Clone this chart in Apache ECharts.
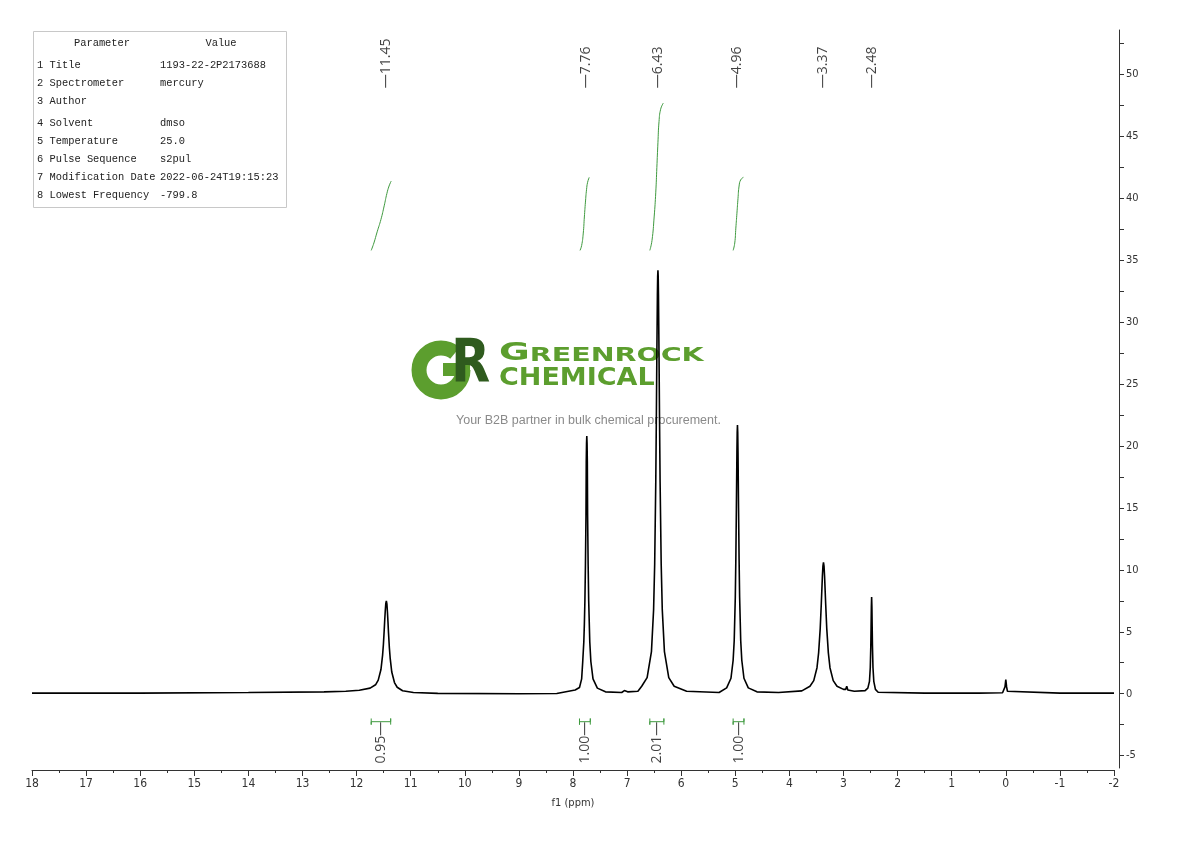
<!DOCTYPE html>
<html>
<head>
<meta charset="utf-8">
<script src="https://cdn.jsdelivr.net/npm/echarts@6/dist/echarts.min.js"></script>
<style>
html, body { margin: 0; padding: 0; background: #fff; }
#main { width: 1190px; height: 841px; }
</style>
</head>
<body>
<div id="main"></div>
<script>
// 1H spectrum trace, [ppm, intensity]
const spectrum = [
    [18.0, 0.05], [16.0, 0.05], [14.0, 0.1], [12.6, 0.15], [12.2, 0.2],
    [11.95, 0.28], [11.75, 0.45], [11.65, 0.72], [11.60, 1.1], [11.55, 1.95],
    [11.52, 3.1], [11.505, 3.95], [11.49, 5.1], [11.48, 5.95], [11.47, 6.7],
    [11.46, 7.3], [11.45, 7.5], [11.44, 7.26], [11.43, 6.6], [11.42, 5.8],
    [11.41, 4.9], [11.395, 3.75], [11.38, 2.9], [11.35, 1.75], [11.30, 0.9],
    [11.25, 0.52], [11.15, 0.24], [10.95, 0.1], [10.5, 0.03], [9.0, 0.0],
    [8.3, 0.02], [7.96, 0.3],
    [7.88, 0.5], [7.84, 1.2], [7.82, 2.6], [7.80, 4.2], [7.79, 5.6], [7.78, 7.5],
    [7.77, 10.4], [7.76, 14.4], [7.755, 18.7], [7.75, 20.2], [7.745, 20.8], [7.74, 20.2],
    [7.735, 18.7], [7.73, 14.4], [7.72, 10.4], [7.71, 7.5], [7.69, 4.2],
    [7.67, 2.6], [7.63, 1.2], [7.55, 0.45], [7.4, 0.15], [7.1, 0.1],
    [7.05, 0.25], [7.02, 0.3], [6.99, 0.15], [6.8, 0.2], [6.73, 0.6],
    [6.63, 1.3], [6.55, 3.4], [6.51, 6.8], [6.49, 10.5], [6.47, 17.1],
    [6.46, 21.9], [6.45, 27.4], [6.44, 32.2], [6.435, 33.7], [6.43, 34.2],
    [6.425, 33.7], [6.42, 32.2], [6.41, 27.4], [6.40, 21.9], [6.39, 17.1],
    [6.37, 10.5], [6.35, 6.8], [6.31, 3.4], [6.23, 1.3], [6.13, 0.6],
    [5.9, 0.2], [5.3, 0.1], [5.16, 0.47],
    [5.08, 1.25], [5.04, 2.7], [5.02, 4.3], [5.0, 7.8], [4.99, 10.85],
    [4.98, 15.0], [4.97, 19.5], [4.965, 21.1], [4.96, 21.7], [4.955, 21.1],
    [4.95, 19.5], [4.94, 15.0], [4.93, 10.85], [4.92, 7.8], [4.90, 4.3],
    [4.88, 2.7], [4.84, 1.25], [4.76, 0.47], [4.6, 0.15], [4.2, 0.1],
    [3.77, 0.23], [3.62, 0.6], [3.55, 1.06], [3.49, 2.1], [3.46, 3.3],
    [3.43, 5.3], [3.41, 7.3], [3.39, 9.5], [3.38, 10.3], [3.37, 10.6],
    [3.36, 10.3], [3.35, 9.5], [3.33, 7.3], [3.31, 5.3], [3.28, 3.3],
    [3.25, 2.1], [3.19, 1.06], [3.12, 0.6], [3.0, 0.35], [2.96, 0.35],
    [2.94, 0.6], [2.92, 0.3], [2.8, 0.2], [2.6, 0.25],
    [2.55, 0.45], [2.52, 1.0], [2.505, 2.1], [2.495, 3.9], [2.49, 5.4],
    [2.485, 7.0], [2.48, 7.8], [2.475, 7.0], [2.47, 5.4], [2.465, 3.9],
    [2.455, 2.1], [2.44, 1.0], [2.41, 0.35], [2.36, 0.12], [1.5, 0.05],
    [0.5, 0.05], [0.06, 0.08], [0.03, 0.2], [0.015, 0.55], [0.0, 1.15],
    [-0.015, 0.55], [-0.03, 0.2], [-0.06, 0.06], [-1.0, 0.05], [-2.0, 0.05]
];

// peak picking labels
const peakShifts = [11.45, 7.76, 6.43, 4.96, 3.37, 2.48];

// integration regions and values
const integralRanges = [[11.73, 11.37], [7.88, 7.68], [6.58, 6.32], [5.04, 4.84]];
const integralValues = [0.95, 1.00, 2.01, 1.00];

// integral curves, [ppm, height on the intensity scale]
const integralCurve1 = [[11.73, 35.8], [11.68, 36.4], [11.62, 37.3], [11.55, 38.3], [11.49, 39.4], [11.44, 40.4], [11.40, 41.0], [11.36, 41.4]];
const integralCurve2 = [[7.87, 35.8], [7.84, 36.2], [7.81, 37.2], [7.79, 38.5], [7.77, 39.7], [7.75, 40.7], [7.73, 41.3], [7.70, 41.7]];
const integralCurve3 = [[6.58, 35.8], [6.54, 36.6], [6.50, 38.5], [6.47, 40.5], [6.45, 42.5], [6.43, 44.5], [6.41, 46.2], [6.38, 47.2], [6.33, 47.7]];
const integralCurve4 = [[5.04, 35.8], [5.01, 36.4], [4.99, 37.6], [4.97, 38.8], [4.95, 40.0], [4.93, 41.0], [4.90, 41.5], [4.85, 41.7]];

// right axis ticks / labels
const yTickValues = [-5, -2.5, 0, 2.5, 5, 7.5, 10, 12.5, 15, 17.5, 20, 22.5, 25, 27.5, 30, 32.5, 35, 37.5, 40, 42.5, 45, 47.5, 50, 52.5];
const yLabelValues = [-5, 0, 5, 10, 15, 20, 25, 30, 35, 40, 45, 50];

// parameter table
const paramNames = ['1 Title', '2 Spectrometer', '3 Author', '4 Solvent', '5 Temperature', '6 Pulse Sequence', '7 Modification Date', '8 Lowest Frequency'];
const paramValues = ['1193-22-2P2173688', 'mercury', '', 'dmso', '25.0', 's2pul', '2022-06-24T19:15:23', '-799.8'];
const paramRowY = [65, 83, 101, 123, 141, 159, 177, 195];

const axisFont = "'DejaVu Sans Condensed', 'Liberation Sans Narrow', sans-serif";
const tableFont = "'Liberation Mono', 'DejaVu Sans Mono', monospace";
const green = '#3f9a3f';

let chart = echarts.init(document.getElementById('main'));

// integral bars under the baseline
let barSeries = integralRanges.map(r => ({
    type: 'line',
    silent: true,
    symbol: 'none',
    lineStyle: { color: green, width: 1 },
    data: [[r[0], -2.0], [r[0], -2.5], [r[0], -2.26], [r[1], -2.26], [r[1], -2.0], [r[1], -2.5]],
    z: 3
}));

let curveSeries = [integralCurve1, integralCurve2, integralCurve3, integralCurve4].map(c => ({
    type: 'line',
    silent: true,
    symbol: 'none',
    smooth: true,
    lineStyle: { color: green, width: 1 },
    data: c,
    z: 3
}));

// table graphic
function tableText(x, y, text, align) {
    return {
        type: 'text', x: x, y: y,
        style: { text: text, fontFamily: tableFont, fontSize: 10.4, fill: '#222', align: align || 'left', verticalAlign: 'middle' }
    };
}
let tableEls = [{
    type: 'rect',
    shape: { x: 33.5, y: 31.5, width: 253, height: 176 },
    style: { fill: '#fff', stroke: '#c8c8c8', lineWidth: 1 }
}, tableText(102, 43, 'Parameter', 'center'), tableText(221, 43, 'Value', 'center')];
paramNames.forEach((name, i) => {
    tableEls.push(tableText(37, paramRowY[i], name));
    tableEls.push(tableText(160, paramRowY[i], paramValues[i]));
});

// watermark logo
let logoEls = [{
    type: 'arc',
    shape: { cx: 441, cy: 370, r: 22, startAngle: 0, endAngle: Math.PI * 1.72, clockwise: true },
    style: { stroke: '#5c9e2e', lineWidth: 15, fill: null }
}, {
    type: 'rect',
    shape: { x: 443, y: 363, width: 27, height: 13 },
    style: { fill: '#5c9e2e' }
}, {
    type: 'text', x: 451, y: 366, scaleX: 0.85,
    style: { text: 'R', fontFamily: 'DejaVu Sans', fontWeight: 'bold', fontSize: 60, fill: '#2f5b1e', verticalAlign: 'middle' }
}, {
    type: 'text', x: 499, y: 353, scaleX: 1.5,
    style: {
        text: '{g|G}{r|REENROCK}', verticalAlign: 'middle',
        rich: {
            g: { fontFamily: 'DejaVu Sans', fontWeight: 'bold', fontSize: 25, fill: '#5c9e2e', verticalAlign: 'bottom' },
            r: { fontFamily: 'DejaVu Sans', fontWeight: 'bold', fontSize: 19, fill: '#5c9e2e', verticalAlign: 'bottom' }
        }
    }
}, {
    type: 'text', x: 499, y: 378, scaleX: 1.08,
    style: { text: 'CHEMICAL', fontFamily: 'DejaVu Sans', fontWeight: 'bold', fontSize: 25, fill: '#5c9e2e', verticalAlign: 'middle' }
}, {
    type: 'text', x: 456, y: 421,
    style: { text: 'Your B2B partner in bulk chemical procurement.', fontFamily: 'Liberation Sans', fontSize: 12.5, fill: '#8a8a8a', verticalAlign: 'middle' }
}];

let option = {
    animation: false,
    backgroundColor: '#fff',
    grid: { left: 32, right: 76, top: 30, bottom: 73 },
    xAxis: {
        type: 'value',
        inverse: true,
        min: -2,
        max: 18,
        interval: 1,
        offset: 2,
        name: 'f1 (ppm)',
        nameLocation: 'middle',
        nameGap: 28,
        nameTextStyle: { fontFamily: axisFont, fontSize: 11, color: '#333' },
        axisLine: { onZero: false, lineStyle: { color: '#333', width: 1 } },
        axisTick: { length: 6, lineStyle: { color: '#333' } },
        minorTick: { show: true, splitNumber: 2, length: 3, lineStyle: { color: '#333' } },
        splitLine: { show: false },
        axisLabel: { fontFamily: axisFont, fontSize: 12, color: '#333', margin: 8 }
    },
    yAxis: {
        type: 'value',
        position: 'right',
        min: -6,
        max: 53.6,
        offset: 5,
        axisLine: { show: true, onZero: false, lineStyle: { color: '#333', width: 1 } },
        axisTick: { show: true, length: 5, customValues: yTickValues, lineStyle: { color: '#333' } },
        axisLabel: { customValues: yLabelValues, fontFamily: axisFont, fontSize: 11, color: '#333', margin: 7 },
        splitLine: { show: false }
    },
    graphic: [
        { type: 'group', z: 0, children: tableEls },
        { type: 'group', z: 100, children: logoEls }
    ],
    series: [{
        type: 'line',
        silent: true,
        symbol: 'none',
        lineStyle: { color: '#000', width: 1.6 },
        data: spectrum,
        z: 2
    }, {
        type: 'scatter',
        silent: true,
        symbolSize: 0,
        data: peakShifts.map(p => [p, 48.9]),
        label: {
            show: true,
            position: 'inside',
            rotate: 90,
            align: 'left',
            verticalAlign: 'middle',
            formatter: p => '\u2014' + p.value[0].toFixed(2),
            fontFamily: "'Open Sans', sans-serif",
            fontSize: 14,
            color: '#111'
        }
    }, {
        type: 'scatter',
        silent: true,
        symbolSize: 0,
        data: integralRanges.map((r, i) => [(r[0] + r[1]) / 2, -2.26, integralValues[i]]),
        label: {
            show: true,
            position: 'inside',
            rotate: 90,
            align: 'right',
            verticalAlign: 'middle',
            formatter: p => p.value[2].toFixed(2) + '\u2014',
            fontFamily: "'Open Sans', sans-serif",
            fontSize: 14,
            color: '#111'
        }
    }].concat(barSeries, curveSeries)
};

chart.setOption(option);
</script>
</body>
</html>
